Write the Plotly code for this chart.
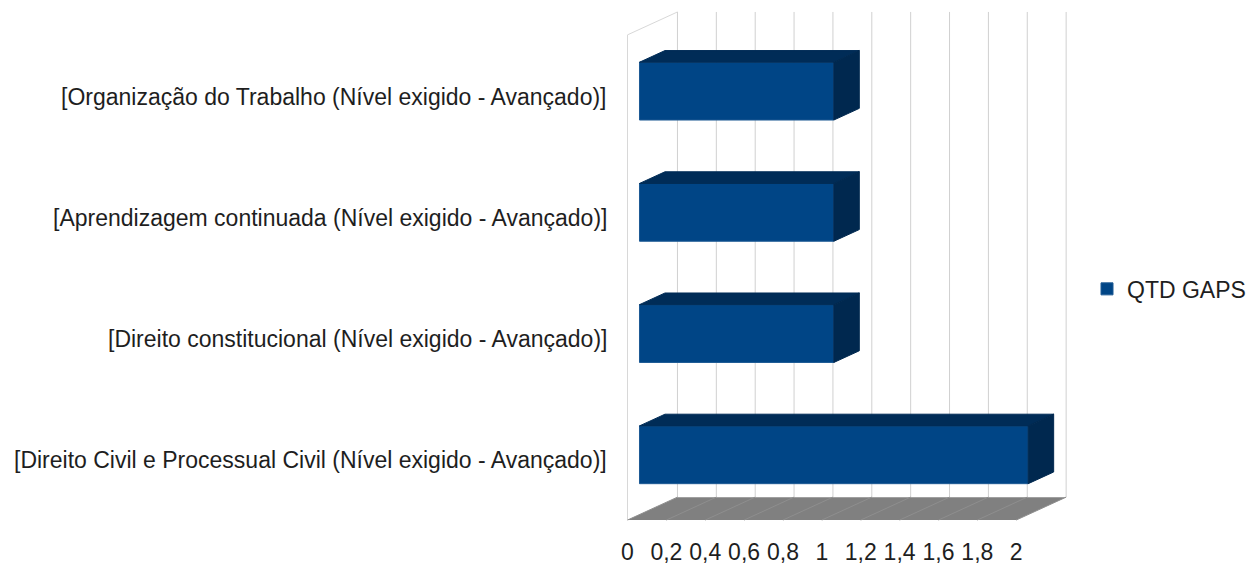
import plotly.graph_objects as go

# Competency gaps by topic (bottom to top on the chart)
categories = [
    "[Direito Civil e Processual Civil (Nível exigido - Avançado)]",
    "[Direito constitucional (Nível exigido - Avançado)]",
    "[Aprendizagem continuada (Nível exigido - Avançado)]",
    "[Organização do Trabalho (Nível exigido - Avançado)]",
]
qtd_gaps = [2, 1, 1, 1]
series_name = "QTD GAPS"
tick_values = [0, 0.2, 0.4, 0.6, 0.8, 1, 1.2, 1.4, 1.6, 1.8, 2]
tick_labels = ["0", "0,2", "0,4", "0,6", "0,8", "1", "1,2", "1,4", "1,6", "1,8", "2"]

# Pseudo-3D projection: depth d (0 = front, 1 = back wall) shifts points right and up
W, H = 1251, 565
PLOT_BOTTOM = 538
X0_PX, PX_PER_UNIT = 628, 194.5          # value 0 on the front edge, pixels per unit
K0_PX, PX_PER_CAT = 462, 121.67          # first category on the front plane, spacing
DX = 50 / PX_PER_UNIT                    # full depth in value units
DY = 23 / PX_PER_CAT                     # full depth in category units
BAR_H = 58 / PX_PER_CAT                  # bar thickness
D_FRONT, D_BACK = 0.24, 0.75             # bar depth span
K_FLOOR = (K0_PX - 522) / PX_PER_CAT
K_TOP = (K0_PX - 35) / PX_PER_CAT
V_MAX = 2

FRONT = "#004586"
TOP = "#002c57"
SIDE = "#00284f"
TEXT = "#1e1e1e"
FONT = "Liberation Sans, Arial, sans-serif"
FONT_SIZE = 23


def proj(v, k, d):
    return v + d * DX, k + d * DY


def poly(points):
    xs, ys = zip(*[proj(*p) for p in points])
    return list(xs) + [xs[0]], list(ys) + [ys[0]]


fig = go.Figure()
shapes = []

# Back wall gridlines
for v in tick_values:
    x0, y0 = proj(v, K_FLOOR, 1)
    x1, y1 = proj(v, K_TOP, 1)
    shapes.append(dict(type="line", xref="x", yref="y", x0=x0, y0=y0, x1=x1, y1=y1,
                       line=dict(color="#d0d0d0", width=1), layer="below"))

# Side wall outline
for a, b in [((0, K_FLOOR, 0), (0, K_TOP, 0)), ((0, K_TOP, 0), (0, K_TOP, 1))]:
    x0, y0 = proj(*a)
    x1, y1 = proj(*b)
    shapes.append(dict(type="line", xref="x", yref="y", x0=x0, y0=y0, x1=x1, y1=y1,
                       line=dict(color="#d8d8d8", width=1), layer="below"))

# Floor
fx, fy = poly([(0, K_FLOOR, 0), (V_MAX, K_FLOOR, 0), (V_MAX, K_FLOOR, 1), (0, K_FLOOR, 1)])
path = "M " + " L ".join(f"{x},{y}" for x, y in zip(fx[:-1], fy[:-1])) + " Z"
shapes.append(dict(type="path", xref="x", yref="y", path=path,
                   fillcolor="#808080", line=dict(width=0), layer="below"))
for v in tick_values:
    x0, y0 = proj(v, K_FLOOR, 0)
    x1, y1 = proj(v, K_FLOOR, 1)
    shapes.append(dict(type="line", xref="x", yref="y", x0=x0, y0=y0, x1=x1, y1=y1,
                       line=dict(color="#8e8e8e", width=1), layer="below"))

# Bar top and side faces
for k, v in enumerate(qtd_gaps):
    lo, hi = k - BAR_H / 2, k + BAR_H / 2
    tx, ty = poly([(0, hi, D_FRONT), (v, hi, D_FRONT), (v, hi, D_BACK), (0, hi, D_BACK)])
    fig.add_trace(go.Scatter(x=tx, y=ty, fill="toself", fillcolor=TOP, mode="lines",
                             line=dict(color=TOP, width=1), showlegend=False, hoverinfo="skip"))
    sx, sy = poly([(v, lo, D_FRONT), (v, hi, D_FRONT), (v, hi, D_BACK), (v, lo, D_BACK)])
    fig.add_trace(go.Scatter(x=sx, y=sy, fill="toself", fillcolor=SIDE, mode="lines",
                             line=dict(color=SIDE, width=1), showlegend=False, hoverinfo="skip"))

# Bar front faces
fig.add_trace(go.Bar(
    name=series_name,
    orientation="h",
    x=qtd_gaps,
    y=[k + D_FRONT * DY for k in range(len(categories))],
    base=D_FRONT * DX,
    width=BAR_H,
    marker=dict(color=FRONT, line=dict(color="#1d5a94", width=1)),
    hovertext=categories,
))

# Category labels
annotations = []
for k, name in enumerate(categories):
    annotations.append(dict(
        x=(609 - X0_PX) / PX_PER_UNIT, y=k, xref="x", yref="y",
        text=name, showarrow=False, xanchor="right", yanchor="middle",
        font=dict(family=FONT, size=FONT_SIZE, color=TEXT),
    ))

fig.update_layout(
    width=W, height=H,
    margin=dict(l=0, r=0, t=0, b=H - PLOT_BOTTOM),
    paper_bgcolor="white", plot_bgcolor="white",
    shapes=shapes, annotations=annotations,
    showlegend=True,
    legend=dict(x=1088 / W, y=1 - 290 / PLOT_BOTTOM, xanchor="left", yanchor="middle",
                font=dict(family=FONT, size=FONT_SIZE, color=TEXT), bgcolor="rgba(0,0,0,0)"),
    xaxis=dict(range=[-X0_PX / PX_PER_UNIT, (W - X0_PX) / PX_PER_UNIT],
               tickvals=tick_values, ticktext=tick_labels,
               showgrid=False, zeroline=False, showline=False, ticks="",
               tickfont=dict(family=FONT, size=FONT_SIZE, color=TEXT), fixedrange=True),
    yaxis=dict(range=[(K0_PX - PLOT_BOTTOM) / PX_PER_CAT, K0_PX / PX_PER_CAT],
               showgrid=False, zeroline=False, showline=False, showticklabels=False,
               fixedrange=True),
)

fig.write_html("out.html")
